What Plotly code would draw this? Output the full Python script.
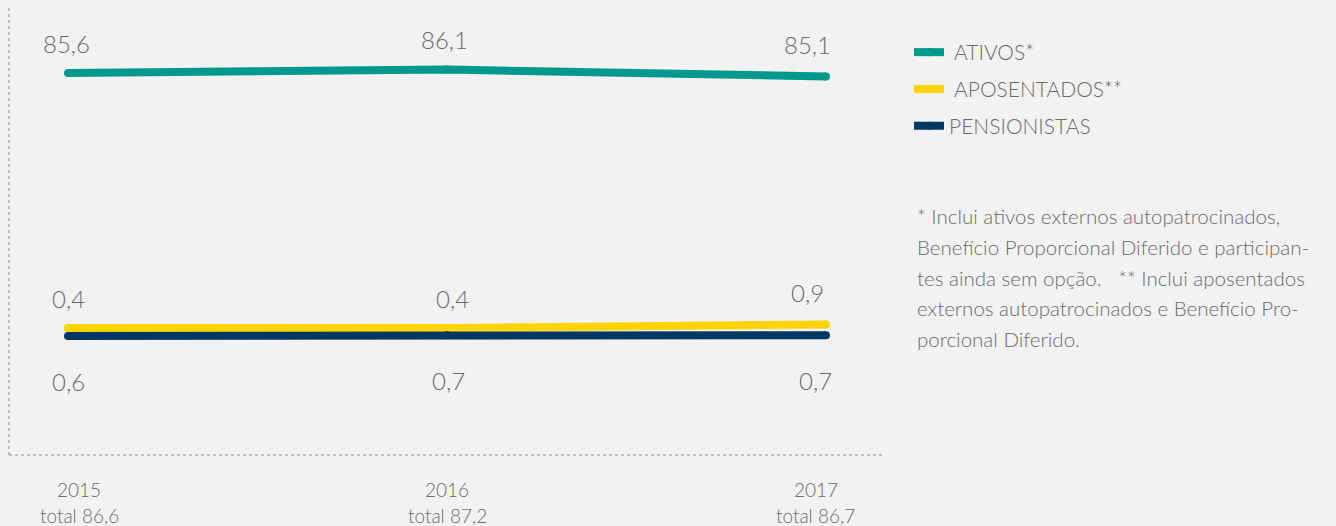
import plotly.graph_objects as go

years = [2015, 2016, 2017]
totals = ["86,6", "87,2", "86,7"]
ativos = [85.6, 86.1, 85.1]
aposentados = [0.4, 0.4, 0.9]
pensionistas = [0.6, 0.7, 0.7]

names = ["ATIVOS*", "APOSENTADOS**", "PENSIONISTAS"]
colors = ["#00998c", "#ffd400", "#003763"]
footnote = [
    "* Inclui ativos externos autopatrocinados,",
    "Benefício Proporcional Diferido e participan-",
    "tes ainda sem opção.   ** Inclui aposentados",
    "externos autopatrocinados e Benefício Pro-",
    "porcional Diferido.",
]

FONT = "Lato"
TXT = "#6b6b6b"
BG = "#f2f2f2"
PH = 447  # plot height in px

def fmt(v):
    return f"{v:.1f}".replace(".", ",")

fig = go.Figure()
series = [ativos, aposentados, pensionistas]
axes = ["y", "y2", "y3"]
legend_names = [" " + names[0], " " + names[1], names[2]]
for k, (vals, nm, col, ax) in enumerate(zip(series, legend_names, colors, axes)):
    fig.add_trace(go.Scatter(
        x=years, y=vals, name=nm, yaxis=ax, mode="lines+markers",
        line=dict(color=col, width=8),
        marker=dict(color=col, size=8),
        legendgroup=f"g{k}",
        hoverinfo="skip",
    ))

# value labels
label_shift = {
    0: ([30, 30, 32], [-2, -3, -18]),
    1: ([30, 30, 32], [0, 5, -18]),
    2: ([-45, -45, -45], [0, 1, -10]),
}
annotations = []
for i, (vals, ax) in enumerate(zip(series, axes)):
    ys, xs = label_shift[i]
    for j, (x, v) in enumerate(zip(years, vals)):
        annotations.append(dict(
            x=x, y=v, xref="x", yref=ax, text=fmt(v), showarrow=False,
            yshift=ys[j], xshift=xs[j],
            font=dict(family=FONT, size=24, color=TXT, weight=300),
        ))

# x labels
xl_shift = [11, 0, -10]
for x, t, s in zip(years, totals, xl_shift):
    annotations.append(dict(
        x=x, y=0, xref="x", yref="paper", yanchor="middle",
        text=f"{x}", showarrow=False, xshift=s, yshift=-34,
        font=dict(family=FONT, size=19, color=TXT, weight=300),
    ))
    annotations.append(dict(
        x=x, y=0, xref="x", yref="paper", yanchor="middle",
        text=f"total {t}", showarrow=False, xshift=s, yshift=-60,
        font=dict(family=FONT, size=19, color=TXT, weight=300),
    ))

# footnote
for k, line in enumerate(footnote):
    annotations.append(dict(
        x=1.0343, y=(455 - 216 - 30.8 * k) / PH, xref="paper", yref="paper",
        xanchor="left", yanchor="middle", text=line, showarrow=False,
        font=dict(family=FONT, size=20.5, color=TXT, weight=300),
    ))

fig.update_layout(
    width=1336, height=526,
    paper_bgcolor=BG, plot_bgcolor=BG,
    margin=dict(l=9, r=451, t=8, b=71),
    showlegend=True,
    legend=dict(
        x=1.0274, y=1 - 24 / PH, xanchor="left", yanchor="top",
        bgcolor="rgba(0,0,0,0)", tracegroupgap=6.5,
        font=dict(family=FONT, size=21, color=TXT, weight=300),
        itemwidth=30,
    ),
    xaxis=dict(range=[2014.8443, 2017.1557], showgrid=False, zeroline=False,
               showticklabels=False, showline=False),
    yaxis=dict(range=[31.03, 94.886], showgrid=False, zeroline=False,
               showticklabels=False),
    yaxis2=dict(range=[-17.743, 46.114], overlaying="y", showgrid=False,
                zeroline=False, showticklabels=False),
    yaxis3=dict(range=[-16.4, 47.457], overlaying="y", showgrid=False,
                zeroline=False, showticklabels=False),
    annotations=annotations,
    shapes=[
        dict(type="line", xref="paper", yref="paper", x0=0, x1=0, y0=0, y1=1,
             line=dict(color="#8c8c8c", width=1, dash="dot")),
        dict(type="line", xref="paper", yref="paper", x0=0, x1=1, y0=0, y1=0,
             line=dict(color="#8c8c8c", width=1, dash="dot")),
    ],
)

fig.write_html(
    "out.html",
    config={"displayModeBar": False},
    post_script="document.body.style.margin='0';document.body.style.overflow='hidden';document.body.style.background='#f2f2f2';",
)
